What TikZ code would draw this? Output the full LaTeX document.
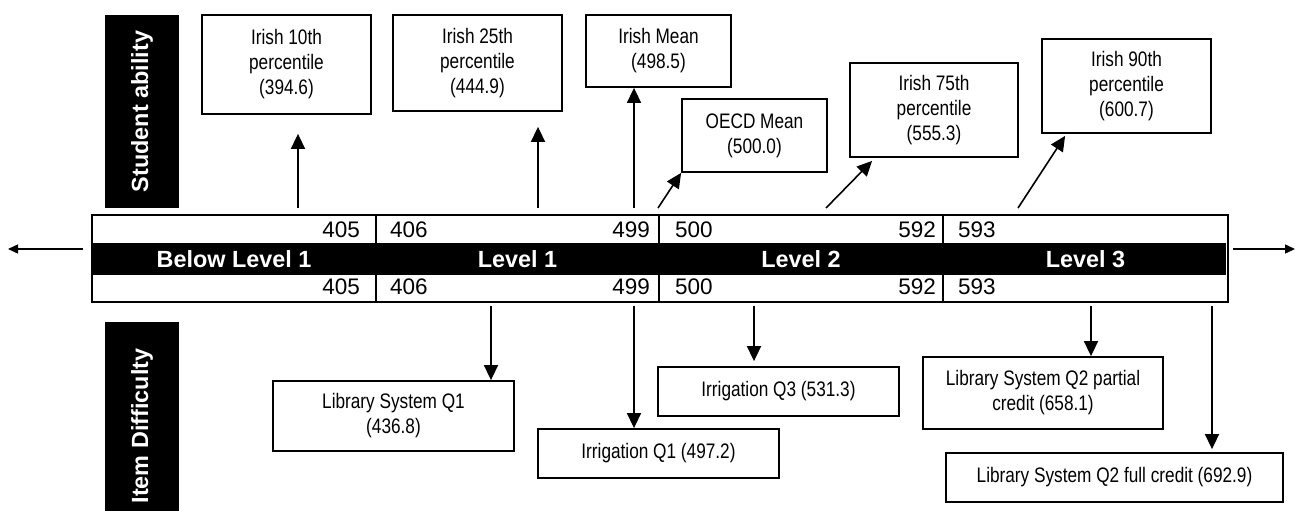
\documentclass[tikz,border=0pt]{standalone}
\usepackage{fontspec}
\setmainfont{Liberation Sans}
\newfontfamily\narrowfont[FakeStretch=0.82]{Liberation Sans}
\usetikzlibrary{arrows.meta,calc}
\tikzset{
  box/.style={draw=black, line width=1.8pt, fill=white, inner sep=0pt, align=center,
    font=\narrowfont\fontsize{21}{25}\selectfont},
  arr/.style={line width=1.6pt, -{Triangle[length=15pt,width=14pt]}},
  axisarr/.style={line width=1.4pt, -{Triangle[length=10pt,width=9pt]}},
  num/.style={inner sep=0pt, font=\fontsize{22.5}{27}\selectfont},
  lvl/.style={inner sep=0pt, text=white, font=\bfseries\fontsize{23.4}{28}\selectfont},
  sidebox/.style={fill=black, text=white, inner sep=0pt, rotate=90,
    font=\bfseries\fontsize{23.4}{28}\selectfont},
}
\begin{document}
\begin{tikzpicture}[x=1pt,y=-1pt]
\useasboundingbox (0,0) rectangle (1295,511);
% side labels
\node[sidebox, minimum width=193, minimum height=74] (sa) at (142,111.5) {Student ability};
\begin{scope}
\clip (0,0) rectangle (1295,511);
\node[sidebox, minimum width=208, minimum height=74] (id) at (142,426) {Item Difficulty};
\end{scope}
% scale bar
\fill[black] (92,243) rectangle (1226,275);
\draw[line width=2.2pt] (92,215) rectangle (1228,302);
\foreach \x in {376,659,943} \draw[line width=1.6pt] (\x,215) -- (\x,243) (\x,275) -- (\x,302);
\node[lvl] (l0) at (234,259) {Below Level 1};
\node[lvl] (l1) at (517.5,259) {Level 1};
\node[lvl] (l2) at (801,259) {Level 2};
\node[lvl] (l3) at (1085.5,259) {Level 3};
% numbers
\foreach \y/\r in {230/u,286.7/d}{
  \node[num, anchor=east] (n405\r) at (360,\y) {405};
  \node[num, anchor=west] (n406\r) at (390,\y) {406};
  \node[num, anchor=east] (n499\r) at (650,\y) {499};
  \node[num, anchor=west] (n500\r) at (675,\y) {500};
  \node[num, anchor=east] (n592\r) at (936,\y) {592};
  \node[num, anchor=west] (n593\r) at (958,\y) {593};
}
% axis arrows
\coordinate (la) at (83,249); \coordinate (lt) at (8,249);
\coordinate (ra) at (1233,249); \coordinate (rt) at (1295,249);
\draw[axisarr] (la) -- (lt);
\draw[axisarr] (ra) -- (rt);
% top boxes
\node[box, minimum width=169, minimum height=99] (b1) at (286.5,64.5) {Irish 10th\\percentile\\(394.6)};
\node[box, minimum width=169, minimum height=96] (b2) at (477.5,63) {Irish 25th\\percentile\\(444.9)};
\node[box, minimum width=145, minimum height=72] (b3) at (658.5,51) {Irish Mean\\(498.5)};
\node[box, minimum width=145, minimum height=73] (b4) at (754.5,135.5) {OECD Mean\\(500.0)};
\node[box, minimum width=168, minimum height=94] (b5) at (934,110) {Irish 75th\\percentile\\(555.3)};
\node[box, minimum width=169, minimum height=94] (b6) at (1126.5,86) {Irish 90th\\percentile\\(600.7)};
% top arrows
\coordinate (s1) at (298,208);
\coordinate (s2) at (538,208);
\coordinate (s3) at (634,208);
\coordinate (s4) at (658,208);
\coordinate (s5) at (826,208);
\coordinate (s6) at (1018,208);
\draw[arr, shorten >=19pt] (s1) -- (s1 |- b1.south);
\draw[arr, shorten >=15pt] (s2) -- (s2 |- b2.south);
\draw[arr] (s3) -- (s3 |- b3.south);
\draw[arr] (s4) -- (b4.south west);
\draw[arr] (s5) -- ($(b5.south west)+(23,3)$);
\draw[arr] (s6) -- ($(b6.south west)+(24,2)$);
% bottom boxes
\node[box, minimum width=241, minimum height=70] (q1) at (393.5,416) {Library System Q1\\(436.8)};
\node[box, minimum width=241, minimum height=49] (q2) at (658.5,453.5) {Irrigation Q1 (497.2)};
\node[box, minimum width=241, minimum height=49] (q3) at (778.5,391.5) {Irrigation Q3 (531.3)};
\node[box, minimum width=240, minimum height=72] (q4) at (1043,393) {Library System Q2 partial\\credit (658.1)};
\node[box, minimum width=337, minimum height=49] (q5) at (1114.5,477.5) {Library System Q2 full credit (692.9)};
% bottom arrows
\coordinate (t1) at (491,306);
\coordinate (t2) at (634,306);
\coordinate (t3) at (754,306);
\coordinate (t4) at (1091,306);
\coordinate (t5) at (1212,306);
\draw[arr] (t1) -- (t1 |- q1.north);
\draw[arr] (t2) -- (t2 |- q2.north);
\draw[arr, shorten >=5pt] (t3) -- (t3 |- q3.north);
\draw[arr] (t4) -- (t4 |- q4.north);
\draw[arr, shorten >=3pt] (t5) -- (t5 |- q5.north);
\end{tikzpicture}
\end{document}
